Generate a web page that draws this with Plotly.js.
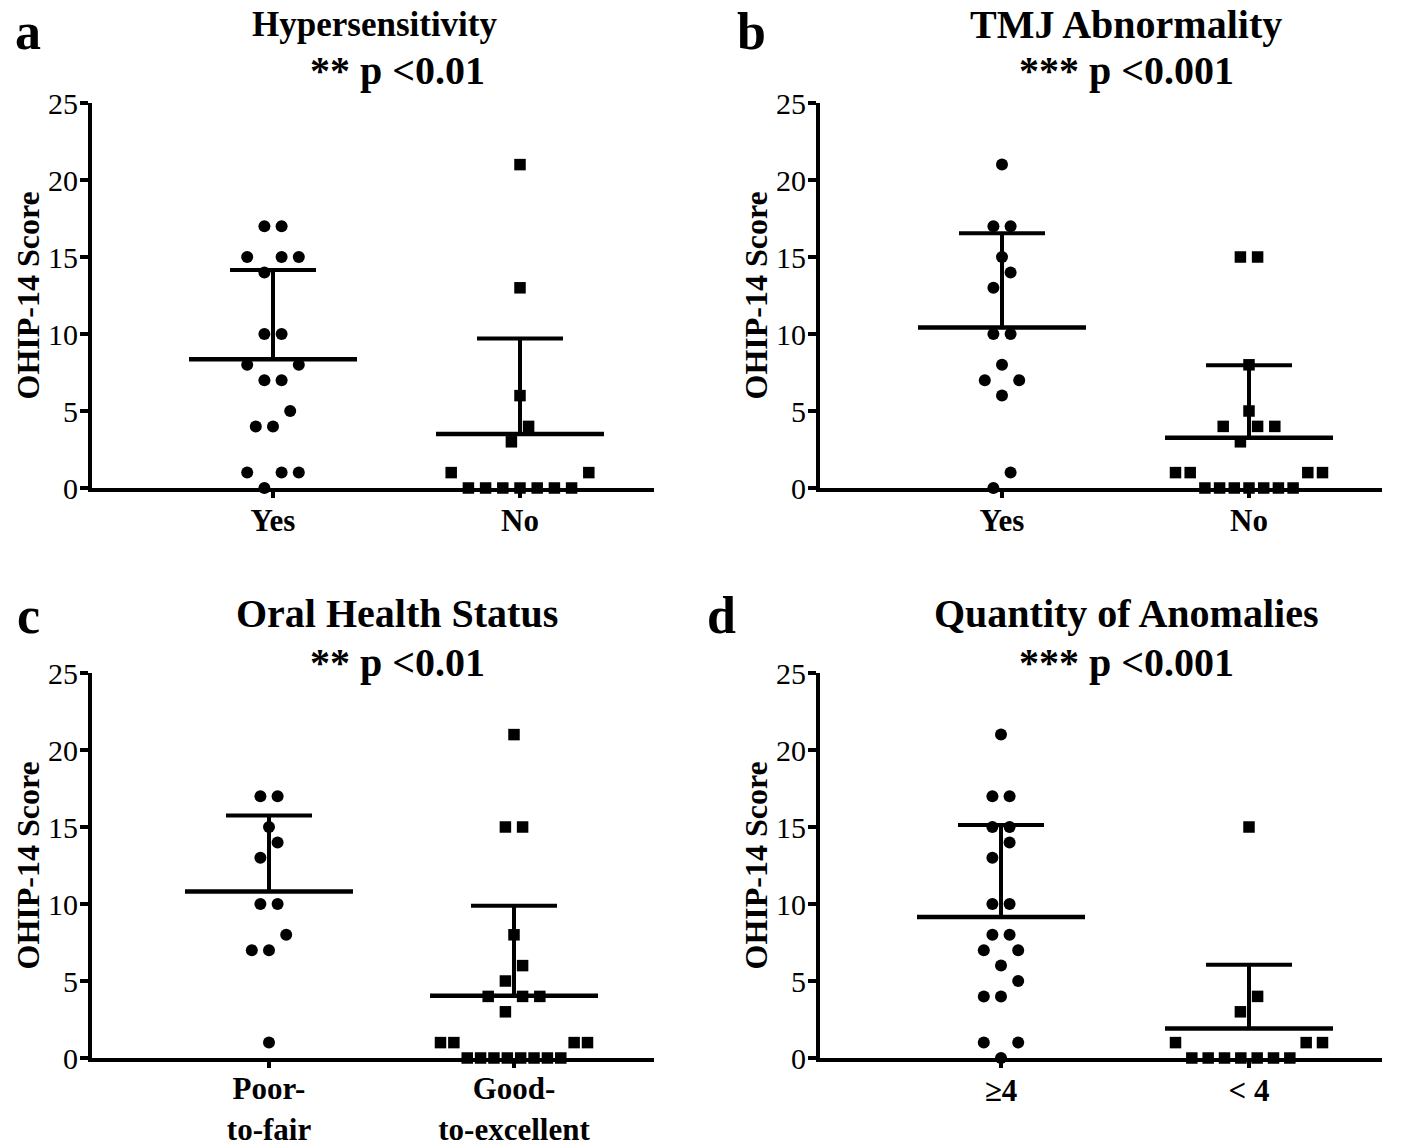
<!DOCTYPE html>
<html><head><meta charset="utf-8">
<script src="https://cdn.plot.ly/plotly-3.0.1.min.js"></script>
<style>html,body{margin:0;padding:0;background:#fff}#chart{width:1418px;height:1148px}</style>
</head><body><div id="chart"></div>
<script>
// ---- data (OHIP-14 scores) ----
const hyperYes = [17,17,15,15,15,14,10,10,8,8,7,7,5,4,4,1,1,1,0];
const hyperNo  = [21,13,6,4,3,1,1,0,0,0,0,0,0,0];
const tmjYes   = [21,17,17,15,14,13,10,10,8,7,7,6,1,0];
const tmjNo    = [15,15,8,5,4,4,4,3,1,1,1,1,0,0,0,0,0,0,0];
const ohsPoor  = [17,17,15,14,13,10,10,8,7,7,1];
const ohsGood  = [21,15,15,8,6,5,4,4,4,3,1,1,1,1,0,0,0,0,0,0,0,0];
const anomHigh = [21,17,17,15,15,14,13,10,10,8,8,7,7,6,5,4,4,1,1,0];
const anomLow  = [15,4,3,1,1,1,0,0,0,0,0,0,0];

const panelTitles = ['Hypersensitivity','TMJ Abnormality','Oral Health Status','Quantity of Anomalies'];
const pLabels     = ['** p <0.01','*** p <0.001','** p <0.01','*** p <0.001'];
const letters     = ['a','b','c','d'];
const tickLabels  = [['Yes','No'],['Yes','No'],['Poor-<br>to-fair','Good-<br>to-excellent'],['\u22654','< 4']];
const yTicks      = [0,5,10,15,20,25];
const yTitle      = 'OHIP-14 Score';

// ---- layout geometry (pixels) ----
const W = 1418, H = 1148;
const FONT = 'Liberation Serif, Times New Roman, serif';
const geo = [
  {L:92,  R:654,  T:103, B:488,  c1:273,  c2:520,  tx:375,  tfs:35, ty:24,  px:397,  py:70,  lx:28,  ly:32, xs:-4},
  {L:820, R:1382, T:103, B:488,  c1:1002, c2:1249, tx:1126, tfs:40, ty:24,  px:1126, py:70,  lx:752, ly:32, xs:-4},
  {L:92,  R:654,  T:673, B:1058, c1:269,  c2:514,  tx:397,  tfs:40, ty:613, px:397,  py:662, lx:28,  ly:615, xs:-6},
  {L:820, R:1382, T:673, B:1058, c1:1001, c2:1249, tx:1126, tfs:40, ty:613, px:1126, py:662, lx:721, ly:615, xs:-4}
];
const groups = [[hyperYes,hyperNo],[tmjYes,tmjNo],[ohsPoor,ohsGood],[anomHigh,anomLow]];
const symbols = ['circle','square'];

const SLOT = 17.2, MAXHALF = 73.5, MEANHALF = 84, CAPHALF = 43;

function swarm(vals){
  const pts = vals.map((v,i)=>({v,i})).sort((a,b)=>a.v-b.v || a.i-b.i);
  const rows = []; let cur = null;
  pts.forEach(p=>{ if(!cur || p.v - cur.start > 1){cur={start:p.v,pts:[]};rows.push(cur);} cur.pts.push(p); });
  const off = new Array(vals.length).fill(0);
  rows.forEach(r=>{
    const n = r.pts.length;
    const sp = n>1 ? Math.min(SLOT, 2*MAXHALF/(n-1)) : SLOT;
    const slots = [];
    if(n%2===1){ slots.push(0); for(let k=2;slots.length<n;k+=2){slots.push(-k); if(slots.length<n) slots.push(k);} }
    else { for(let k=1;slots.length<n;k+=2){slots.push(-k); if(slots.length<n) slots.push(k);} }
    r.pts.forEach((p,j)=>{ off[p.i] = slots[j]*sp/2; });
  });
  return off;
}
function mean(a){return a.reduce((s,v)=>s+v,0)/a.length;}
function sd(a){const m=mean(a);return Math.sqrt(a.reduce((s,v)=>s+(v-m)*(v-m),0)/(a.length-1));}

const traces = [], annotations = [];
const layout = {width:W,height:H,margin:{l:0,r:0,t:0,b:0},paper_bgcolor:'#fff',plot_bgcolor:'#fff',
  showlegend:false,annotations};

geo.forEach((g,pi)=>{
  const sfx = pi===0 ? '' : String(pi+1);
  const unit = g.c2 - g.c1;
  const xr = [1-(g.c1-g.L)/unit, 2+(g.R-g.c2)/unit];
  layout['xaxis'+sfx] = {domain:[g.L/W, g.R/W], range:xr, anchor:'y'+sfx,
    showline:true, linewidth:4, linecolor:'#000', showgrid:false, zeroline:false,
    tickmode:'array', tickvals:[1,2], ticktext:tickLabels[pi].map(t=>'<b>'+t+'</b>'),
    ticks:'outside', ticklen:6, tickwidth:3.5, tickcolor:'#000', ticklabelstandoff:g.xs,
    tickfont:{family:FONT,size:31,color:'#000'}, fixedrange:true};
  layout['yaxis'+sfx] = {domain:[1-g.B/H, 1-g.T/H], range:[0,25], anchor:'x'+sfx,
    showline:true, linewidth:4, linecolor:'#000', showgrid:false, zeroline:false,
    tickmode:'array', tickvals:yTicks, ticks:'outside', ticklen:8, tickwidth:4, tickcolor:'#000',
    ticklabelstandoff:-4,
    tickfont:{family:FONT,size:30,color:'#000'}, fixedrange:true};
  const xa = 'x'+sfx, ya = 'y'+sfx;
  groups[pi].forEach((vals,gi)=>{
    const idx = gi+1;
    const off = swarm(vals);
    const m = mean(vals), s = sd(vals);
    traces.push({type:'scatter',mode:'lines',xaxis:xa,yaxis:ya,cliponaxis:false,hoverinfo:'skip',
      x:[idx-MEANHALF/unit, idx+MEANHALF/unit], y:[m,m], line:{color:'#000',width:4.5}});
    traces.push({type:'scatter',mode:'lines',xaxis:xa,yaxis:ya,cliponaxis:false,hoverinfo:'skip',
      x:[idx, idx, null, idx-CAPHALF/unit, idx+CAPHALF/unit], y:[m, m+s, null, m+s, m+s], line:{color:'#000',width:4}});
    traces.push({type:'scatter',mode:'markers',xaxis:xa,yaxis:ya,cliponaxis:false,
      x:vals.map((v,i)=>idx+off[i]/unit), y:vals,
      marker:{symbol:symbols[gi], size: gi===0?12:11.5, color:'#000', line:{width:0}}});
  });
  annotations.push({xref:'paper',yref:'paper',x:g.tx/W,y:1-g.ty/H,xanchor:'center',yanchor:'middle',showarrow:false,
    text:'<b>'+panelTitles[pi]+'</b>',font:{family:FONT,size:g.tfs,color:'#000'}});
  annotations.push({xref:'paper',yref:'paper',x:g.px/W,y:1-g.py/H,xanchor:'center',yanchor:'middle',showarrow:false,
    text:'<b>'+pLabels[pi]+'</b>',font:{family:FONT,size:40,color:'#000'}});
  annotations.push({xref:'paper',yref:'paper',x:g.lx/W,y:1-g.ly/H,xanchor:'center',yanchor:'middle',showarrow:false,
    text:'<b>'+letters[pi]+'</b>',font:{family:FONT,size:52,color:'#000'}});
  annotations.push({xref:'paper',yref:'paper',x:(g.L-65)/W,y:1-((g.T+g.B)/2)/H,xanchor:'center',yanchor:'middle',showarrow:false,
    textangle:-90,text:'<b>'+yTitle+'</b>',font:{family:FONT,size:32,color:'#000'}});
});

Plotly.newPlot('chart', traces, layout, {staticPlot:true});
</script></body></html>
